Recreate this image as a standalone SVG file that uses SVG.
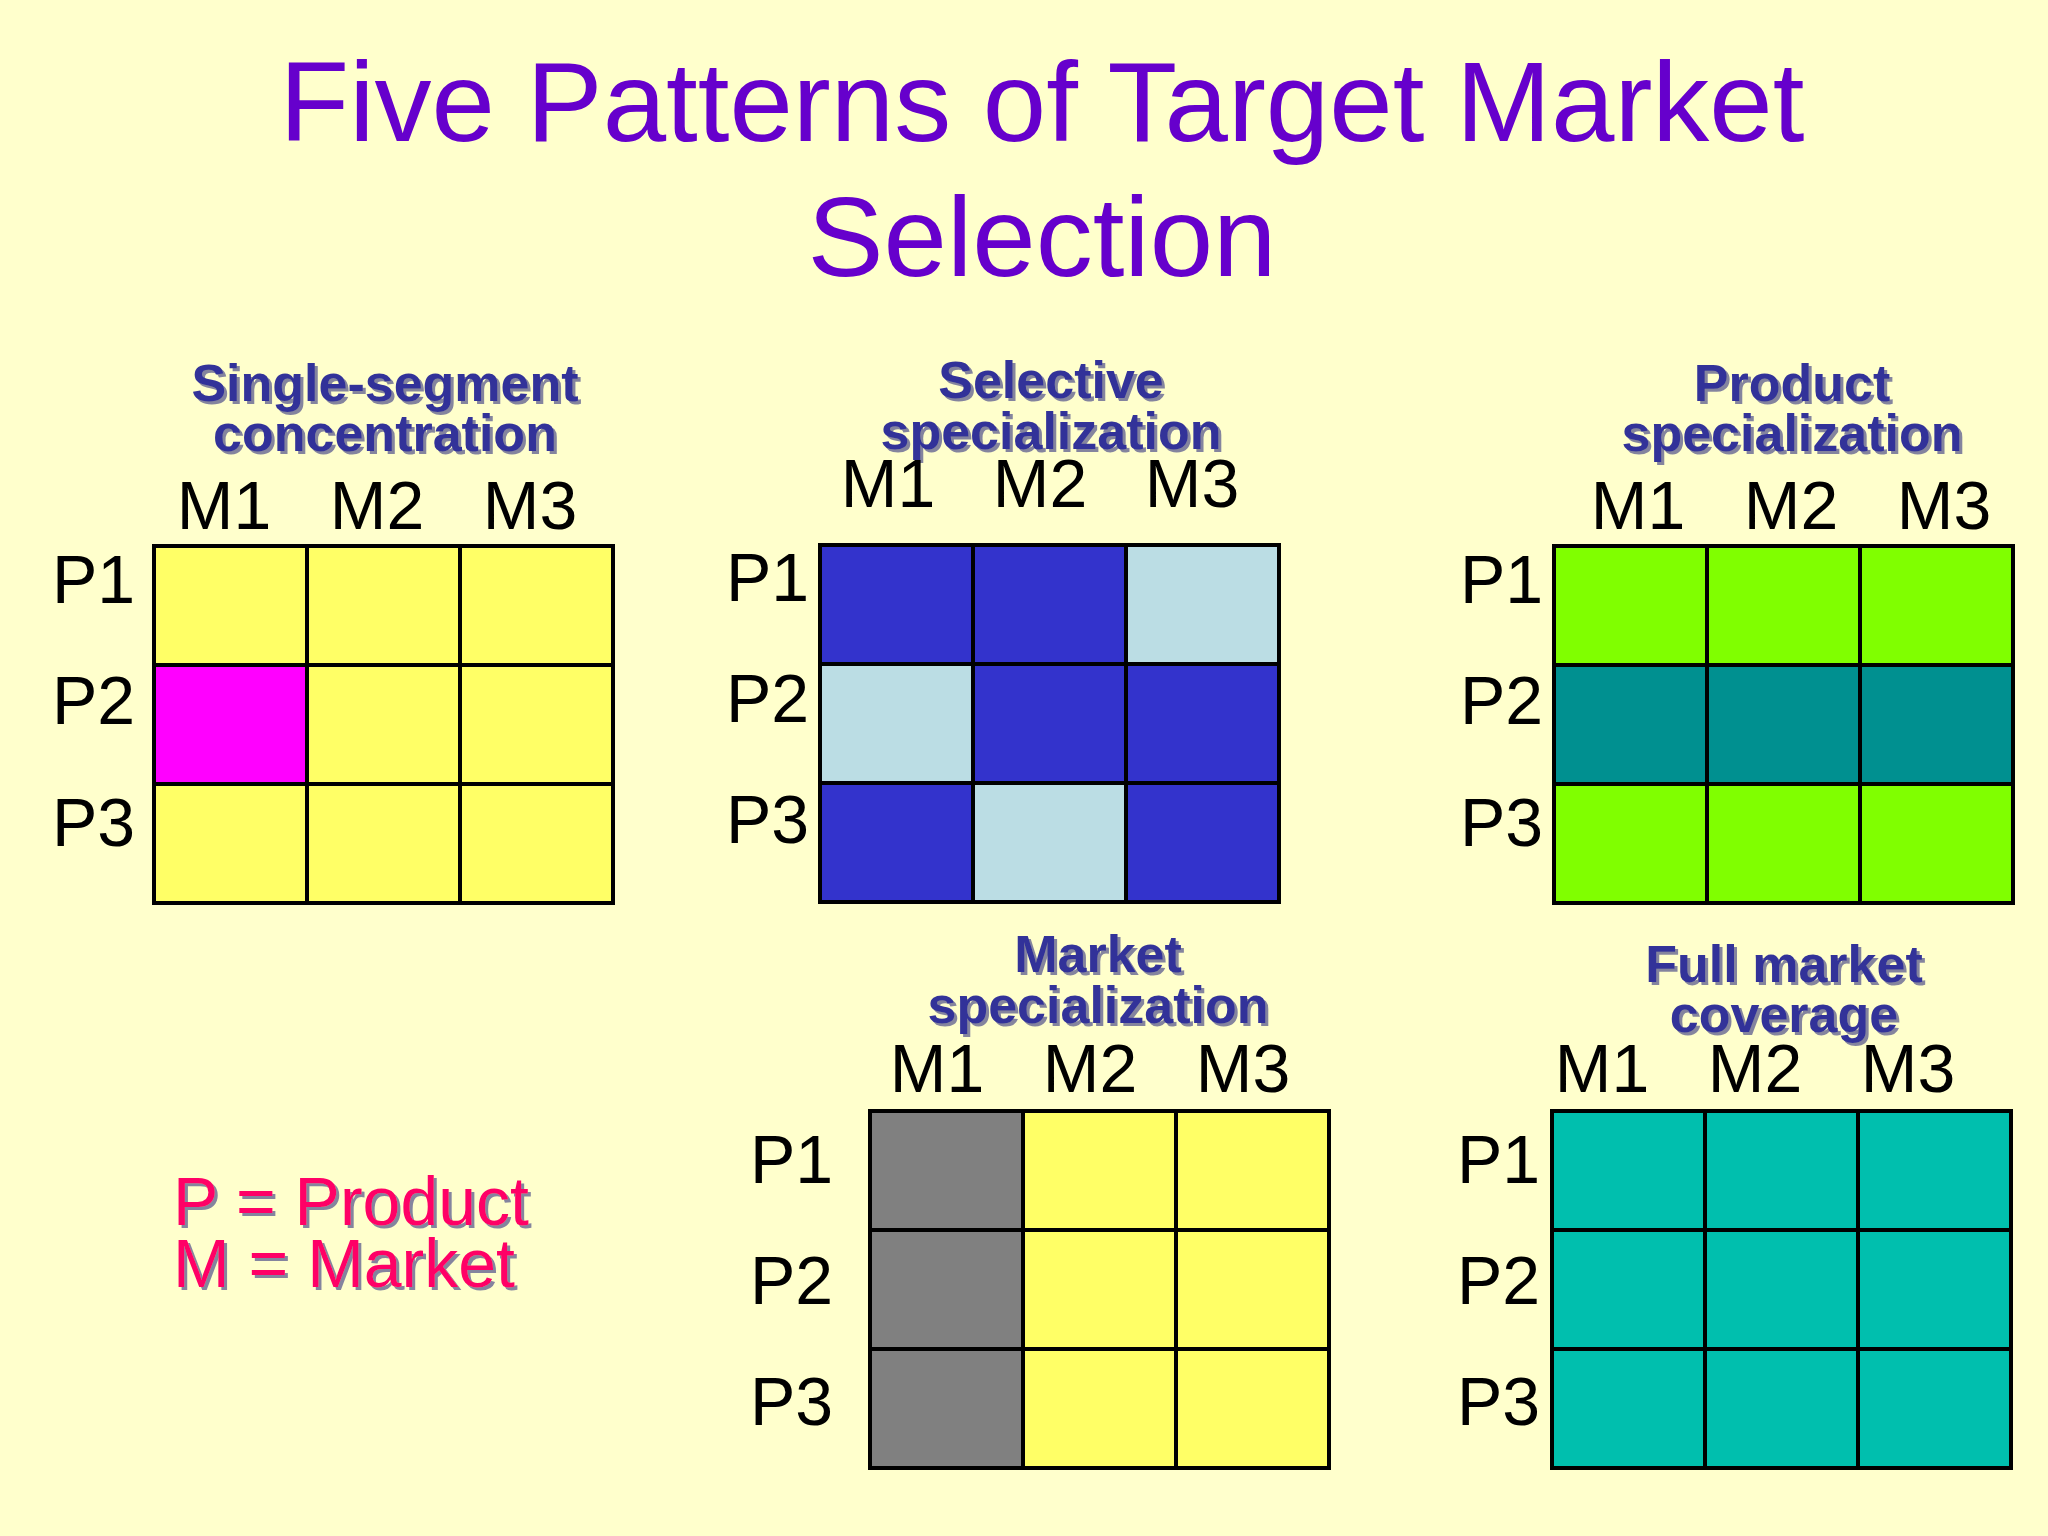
<svg xmlns="http://www.w3.org/2000/svg" width="2048" height="1536" viewBox="0 0 2048 1536">
<style>
.c{stroke:#000;stroke-width:4}
.y{fill:#FFFF66}.m{fill:#FF00FF}.b{fill:#3333CC}.l{fill:#BBDDE4}.g{fill:#80FF00}.t{fill:#009090}.k{fill:#808080}.q{fill:#00BFAE}
.lab{font-family:"Liberation Sans",Arial,sans-serif;font-size:68px;fill:#000}
.mt{text-anchor:middle}
.h{font-family:"Liberation Sans",Arial,sans-serif;font-size:52px;font-weight:bold;fill:#333399;text-anchor:middle;filter:url(#sh)}
.title{font-family:"Liberation Sans",Arial,sans-serif;font-size:114px;fill:#6600CC;text-anchor:middle}
.leg{font-family:"Liberation Sans",Arial,sans-serif;font-size:68px;fill:#FF0066;filter:url(#sh)}
</style>
<defs>
<filter id="sh" x="-10%" y="-20%" width="120%" height="140%"><feDropShadow dx="3" dy="3" stdDeviation="0.5" flood-color="#777799" flood-opacity="0.9"/></filter>
<g id="grid"><path class="c" fill="none" d="M0,0H459V357H0Z M153,0V357 M306,0V357 M0,119H459 M0,238H459"/></g>
</defs>
<rect width="2048" height="1536" fill="#FFFFCC"/>
<text class="title" x="1042" y="141">Five Patterns of Target Market</text>
<text class="title" x="1042" y="276">Selection</text>

<g id="g1" transform="translate(154,546)">
<rect class="y" x="0" y="0" width="153" height="119"/><rect class="y" x="153" y="0" width="153" height="119"/><rect class="y" x="306" y="0" width="153" height="119"/>
<rect class="m" x="0" y="119" width="153" height="119"/><rect class="y" x="153" y="119" width="153" height="119"/><rect class="y" x="306" y="119" width="153" height="119"/>
<rect class="y" x="0" y="238" width="153" height="119"/><rect class="y" x="153" y="238" width="153" height="119"/><rect class="y" x="306" y="238" width="153" height="119"/>
<use href="#grid"/>
<text class="h" x="231" y="-145">Single-segment</text>
<text class="h" x="231" y="-95">concentration</text>
<text class="lab mt" x="70" y="-17">M1</text><text class="lab mt" x="223" y="-17">M2</text><text class="lab mt" x="376" y="-17">M3</text>
<text class="lab" x="-102" y="57">P1</text><text class="lab" x="-102" y="178">P2</text><text class="lab" x="-102" y="300">P3</text>
</g>

<g id="g2" transform="translate(820,545)">
<rect class="b" x="0" y="0" width="153" height="119"/><rect class="b" x="153" y="0" width="153" height="119"/><rect class="l" x="306" y="0" width="153" height="119"/>
<rect class="l" x="0" y="119" width="153" height="119"/><rect class="b" x="153" y="119" width="153" height="119"/><rect class="b" x="306" y="119" width="153" height="119"/>
<rect class="b" x="0" y="238" width="153" height="119"/><rect class="l" x="153" y="238" width="153" height="119"/><rect class="b" x="306" y="238" width="153" height="119"/>
<use href="#grid"/>
<text class="h" x="231" y="-147">Selective</text>
<text class="h" x="231" y="-96">specialization</text>
<text class="lab mt" x="68" y="-38">M1</text><text class="lab mt" x="220" y="-38">M2</text><text class="lab mt" x="372" y="-38">M3</text>
<text class="lab" x="-94" y="56">P1</text><text class="lab" x="-94" y="177">P2</text><text class="lab" x="-94" y="298">P3</text>
</g>

<g id="g3" transform="translate(1554,546)">
<rect class="g" x="0" y="0" width="459" height="119"/><rect class="t" x="0" y="119" width="459" height="119"/><rect class="g" x="0" y="238" width="459" height="119"/>
<use href="#grid"/>
<text class="h" x="238" y="-145">Product</text>
<text class="h" x="238" y="-95">specialization</text>
<text class="lab mt" x="84" y="-17">M1</text><text class="lab mt" x="237" y="-17">M2</text><text class="lab mt" x="390" y="-17">M3</text>
<text class="lab" x="-94" y="57">P1</text><text class="lab" x="-94" y="178">P2</text><text class="lab" x="-94" y="300">P3</text>
</g>

<g id="g4" transform="translate(870,1111)">
<rect class="k" x="0" y="0" width="153" height="357"/><rect class="y" x="153" y="0" width="306" height="357"/>
<use href="#grid"/>
<text class="h" x="228" y="-139">Market</text>
<text class="h" x="228" y="-88">specialization</text>
<text class="lab mt" x="67" y="-19">M1</text><text class="lab mt" x="220" y="-19">M2</text><text class="lab mt" x="373" y="-19">M3</text>
<text class="lab" x="-120" y="72">P1</text><text class="lab" x="-120" y="193">P2</text><text class="lab" x="-120" y="314">P3</text>
</g>

<g id="g5" transform="translate(1552,1111)">
<rect class="q" x="0" y="0" width="459" height="357"/>
<use href="#grid"/>
<text class="h" x="232" y="-129">Full market</text>
<text class="h" x="232" y="-79">coverage</text>
<text class="lab mt" x="50" y="-19">M1</text><text class="lab mt" x="203" y="-19">M2</text><text class="lab mt" x="356" y="-19">M3</text>
<text class="lab" x="-95" y="72">P1</text><text class="lab" x="-95" y="193">P2</text><text class="lab" x="-95" y="314">P3</text>
</g>

<g id="legend">
<text class="leg" x="173" y="1225">P = Product</text>
<text class="leg" x="173" y="1287">M = Market</text>
</g>
</svg>
